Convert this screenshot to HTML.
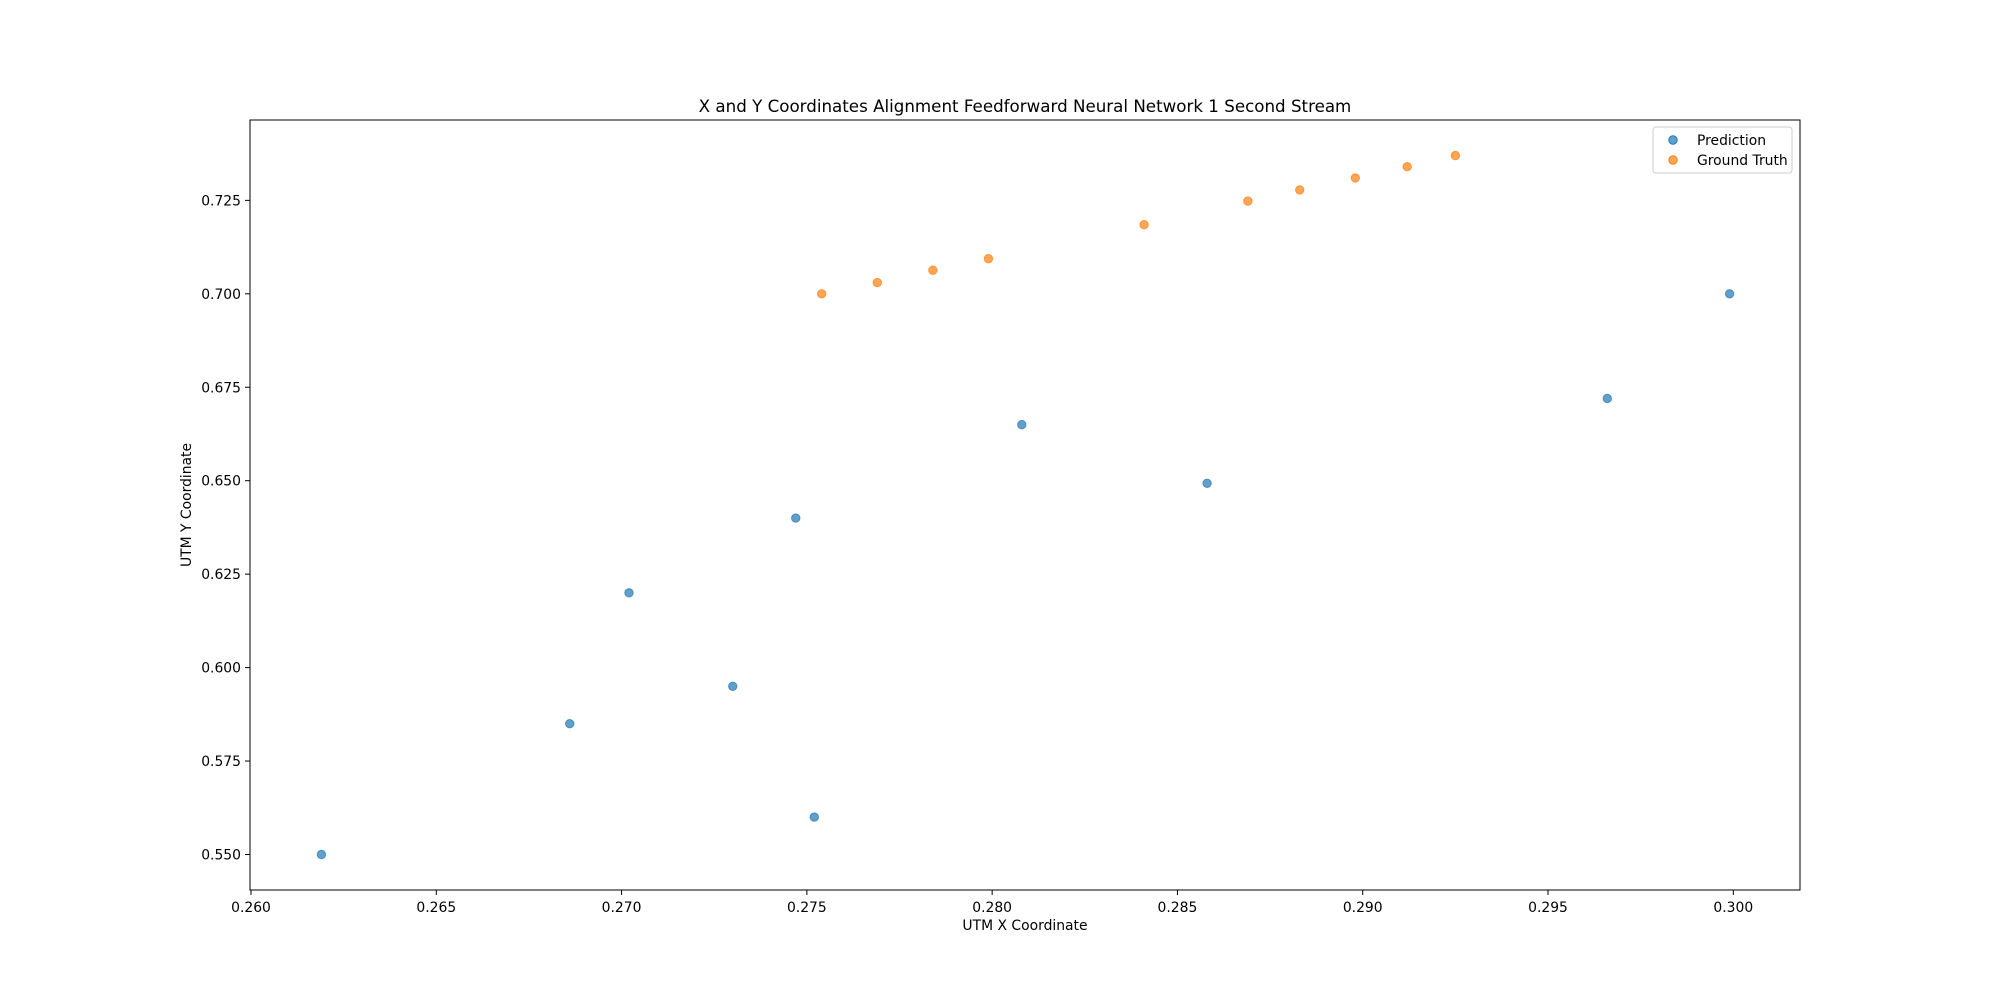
<!DOCTYPE html>
<html><head><meta charset="utf-8"><style>
body{margin:0;background:#fff;}
svg text{font-family:"DejaVu Sans","Liberation Sans",sans-serif;fill:#000;}
</style></head><body>
<svg id="chart" width="2000" height="1000" xmlns="http://www.w3.org/2000/svg">
<rect width="2000" height="1000" fill="#fff"/>
<text x="1025" y="112" font-size="16.7" text-anchor="middle">X and Y Coordinates Alignment Feedforward Neural Network 1 Second Stream</text>
<g id="xt"></g>
<g id="yt"></g>
<g id="pts"></g>
<rect x="250" y="120" width="1550" height="770" fill="none" stroke="#000" stroke-width="1"/>
<text x="1025" y="930" font-size="13.9" text-anchor="middle">UTM X Coordinate</text>
<text transform="translate(191,505) rotate(-90)" font-size="13.9" text-anchor="middle">UTM Y Coordinate</text>
<g>
<rect x="1653" y="127" width="139" height="46" rx="3" fill="#fff" fill-opacity="0.8" stroke="#ccc"/>
<g>
<circle cx="1673" cy="140" r="4.2" fill="#1f77b4" fill-opacity="0.7" stroke="#1f77b4"/>
<text x="1697" y="145" font-size="13.9">Prediction</text></g>
<g>
<circle cx="1673" cy="160" r="4.2" fill="#ff7f0e" fill-opacity="0.7" stroke="#ff7f0e"/>
<text x="1697" y="165" font-size="13.9">Ground Truth</text></g>
</g>
</svg>
<script>
const xTicks=[0.260,0.265,0.270,0.275,0.280,0.285,0.290,0.295,0.300];
const yTicks=[0.550,0.575,0.600,0.625,0.650,0.675,0.700,0.725];
const predX=[0.2619,0.2686,0.2702,0.2730,0.2747,0.2752,0.2808,0.2858,0.2966,0.2999];
const predY=[0.550,0.585,0.620,0.595,0.640,0.560,0.665,0.6493,0.672,0.700];
const gtX=[0.2754,0.2769,0.2784,0.2799,0.2841,0.2869,0.2883,0.2898,0.2912,0.2925];
const gtY=[0.700,0.703,0.7063,0.7094,0.7185,0.7248,0.7278,0.731,0.734,0.737];
const X0=0.259973,X1=0.30180,Y0=0.5405,Y1=0.7465;
const sx=v=>250+(v-X0)/(X1-X0)*1550;
const sy=v=>890-(v-Y0)/(Y1-Y0)*770;
const NS="http://www.w3.org/2000/svg";
function mk(t,a,p){const e=document.createElementNS(NS,t);for(const k in a)e.setAttribute(k,a[k]);p.appendChild(e);return e;}
const xt=document.getElementById('xt'),yt=document.getElementById('yt'),pts=document.getElementById('pts');
xTicks.forEach(v=>{const x=sx(v);
const l=mk('line',{x1:x,x2:x,y1:890,y2:895,stroke:'#000'},xt);


const t=mk('text',{x:x,y:912,'font-size':13.9,'text-anchor':'middle'},xt);t.textContent=v.toFixed(3);

});
yTicks.forEach(v=>{const y=sy(v);
const l=mk('line',{x1:245,x2:250,y1:y,y2:y,stroke:'#000'},yt);


const t=mk('text',{x:241,y:y+5,'font-size':13.9,'text-anchor':'end'},yt);t.textContent=v.toFixed(3);

});
function series(xs,ys,c,name){xs.forEach((v,i)=>{const p=mk('circle',{cx:sx(v),cy:sy(ys[i]),r:4.2,fill:c,'fill-opacity':0.7,stroke:c,'stroke-opacity':0.7},pts);

});}
series(predX,predY,'#1f77b4','prediction-point');
series(gtX,gtY,'#ff7f0e','ground-truth-point');
</script>
</body></html>
